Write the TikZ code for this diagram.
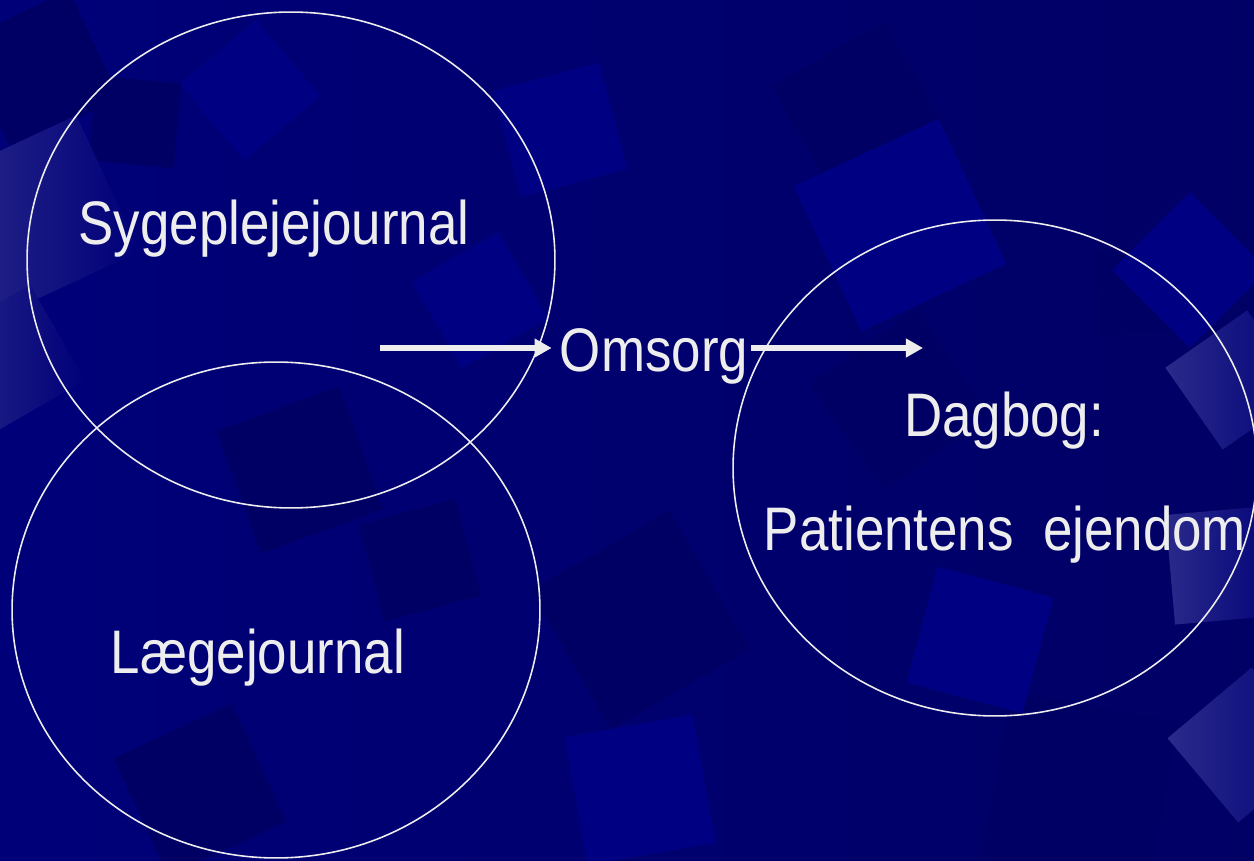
\documentclass[tikz,border=0pt]{standalone}
\usepackage{fontspec}
\newfontfamily\slidefont{Liberation Sans}[FakeStretch=0.86]
\usetikzlibrary{arrows.meta, shapes.geometric, calc}

\begin{document}
\begin{tikzpicture}[
    x=0.02cm, y=-0.02cm,
    every node/.style={font=\slidefont\fontsize{35}{41}\selectfont},
]

% ---------------------------------------------------------------- colours
\definecolor{bgbase}{HTML}{000079}   % the slide itself
\definecolor{bgedge}{HTML}{000065}   % darker towards the right
\definecolor{bgdark}{HTML}{000064}
\definecolor{bgbright}{HTML}{000082}
\definecolor{bglight}{HTML}{2A2A8A}
\definecolor{ink}{HTML}{EDEDED}

\tikzset{
    ring/.style={ellipse, draw=ink, line width=0.9pt, inner sep=0pt},
    word/.style={text=ink, inner sep=0pt, anchor=base},
    flow/.style={-{Triangle[length=9.7pt, width=10.2pt]}, line width=3.1pt, ink},
    tile/.style={fill=#1},
    glow/.style={left color=bglight, right color=bgbase},
}

% ================================================================
% Background: plain slide with tilted squares scattered over it
%   units are pixels of the 1254 x 861 slide, y runs downwards
% ================================================================
\useasboundingbox (0, 0) rectangle (1254, 861);
\shade[left color=bgbase, right color=bgedge] (0, 0) rectangle (1254, 861);

\begin{scope}
    \clip (0, 0) rectangle (1254, 861);
    % darker tiles
    \foreach \cx/\cy/\s/\a in {40/70/120/25, 135/122/85/-5, 860/110/130/30,
            900/400/130/35, 1140/290/85/5, 640/620/160/30, 300/470/130/20,
            1080/790/170/-10, 200/790/130/25, 420/560/100/15} {
        \fill[tile=bgdark, rotate around={\a:(\cx, \cy)}]
            (\cx-\s/2, \cy-\s/2) rectangle ++(\s, \s);
    }
    % brighter tiles
    \foreach \cx/\cy/\s/\a in {250/90/100/40, 900/225/160/25, 1190/270/110/45,
            560/130/110/15, 980/640/120/-15, 640/790/130/10, 480/300/100/30} {
        \fill[tile=bgbright, rotate around={\a:(\cx, \cy)}]
            (\cx-\s/2, \cy-\s/2) rectangle ++(\s, \s);
    }
    % pale tiles on the edges
    \foreach \cx/\cy/\s/\a in {40/215/150/25, 10/360/110/30, 1235/380/100/35,
            1225/565/110/5, 1245/745/110/40} {
        \shade[glow, rotate around={\a:(\cx, \cy)}]
            (\cx-\s/2, \cy-\s/2) rectangle ++(\s, \s);
    }
\end{scope}

% ----------------------------------------------------------------------
% the three rings
% ----------------------------------------------------------------------
\node[ring, minimum width=10.56cm, minimum height=9.92cm] (sygering) at (291, 260) {};
\node[ring, minimum width=10.56cm, minimum height=9.92cm] (laegering) at (276, 610) {};
\node[ring, minimum width=10.48cm, minimum height=9.92cm] (dagring) at (995, 468) {};

% ----------------------------------------------------------------------
% labels, placed on their baselines
% ----------------------------------------------------------------------
\node[word] (syge) at (274, 245) {Sygeplejejournal};
\node[word] (laege) at (258, 673) {Lægejournal};
\node[word] (omsorg) at (654, 372) {Omsorg};
\node[word] (dagbog) at (1004, 437) {Dagbog:};
\node[word] (ejendom) at (1005, 550) {Patientens\ \ ejendom};

% ----------------------------------------------------------------------
% arrows through Omsorg
% ----------------------------------------------------------------------
\coordinate (flowin) at (380, 348);
\coordinate (flowout) at (923, 348);

\draw[flow] (flowin) -- ($(flowin -| omsorg.west) + (-8, 0)$);
\draw[flow] ($(flowout -| omsorg.east) + (3, 0)$) -- (flowout);

\end{tikzpicture}
\end{document}
